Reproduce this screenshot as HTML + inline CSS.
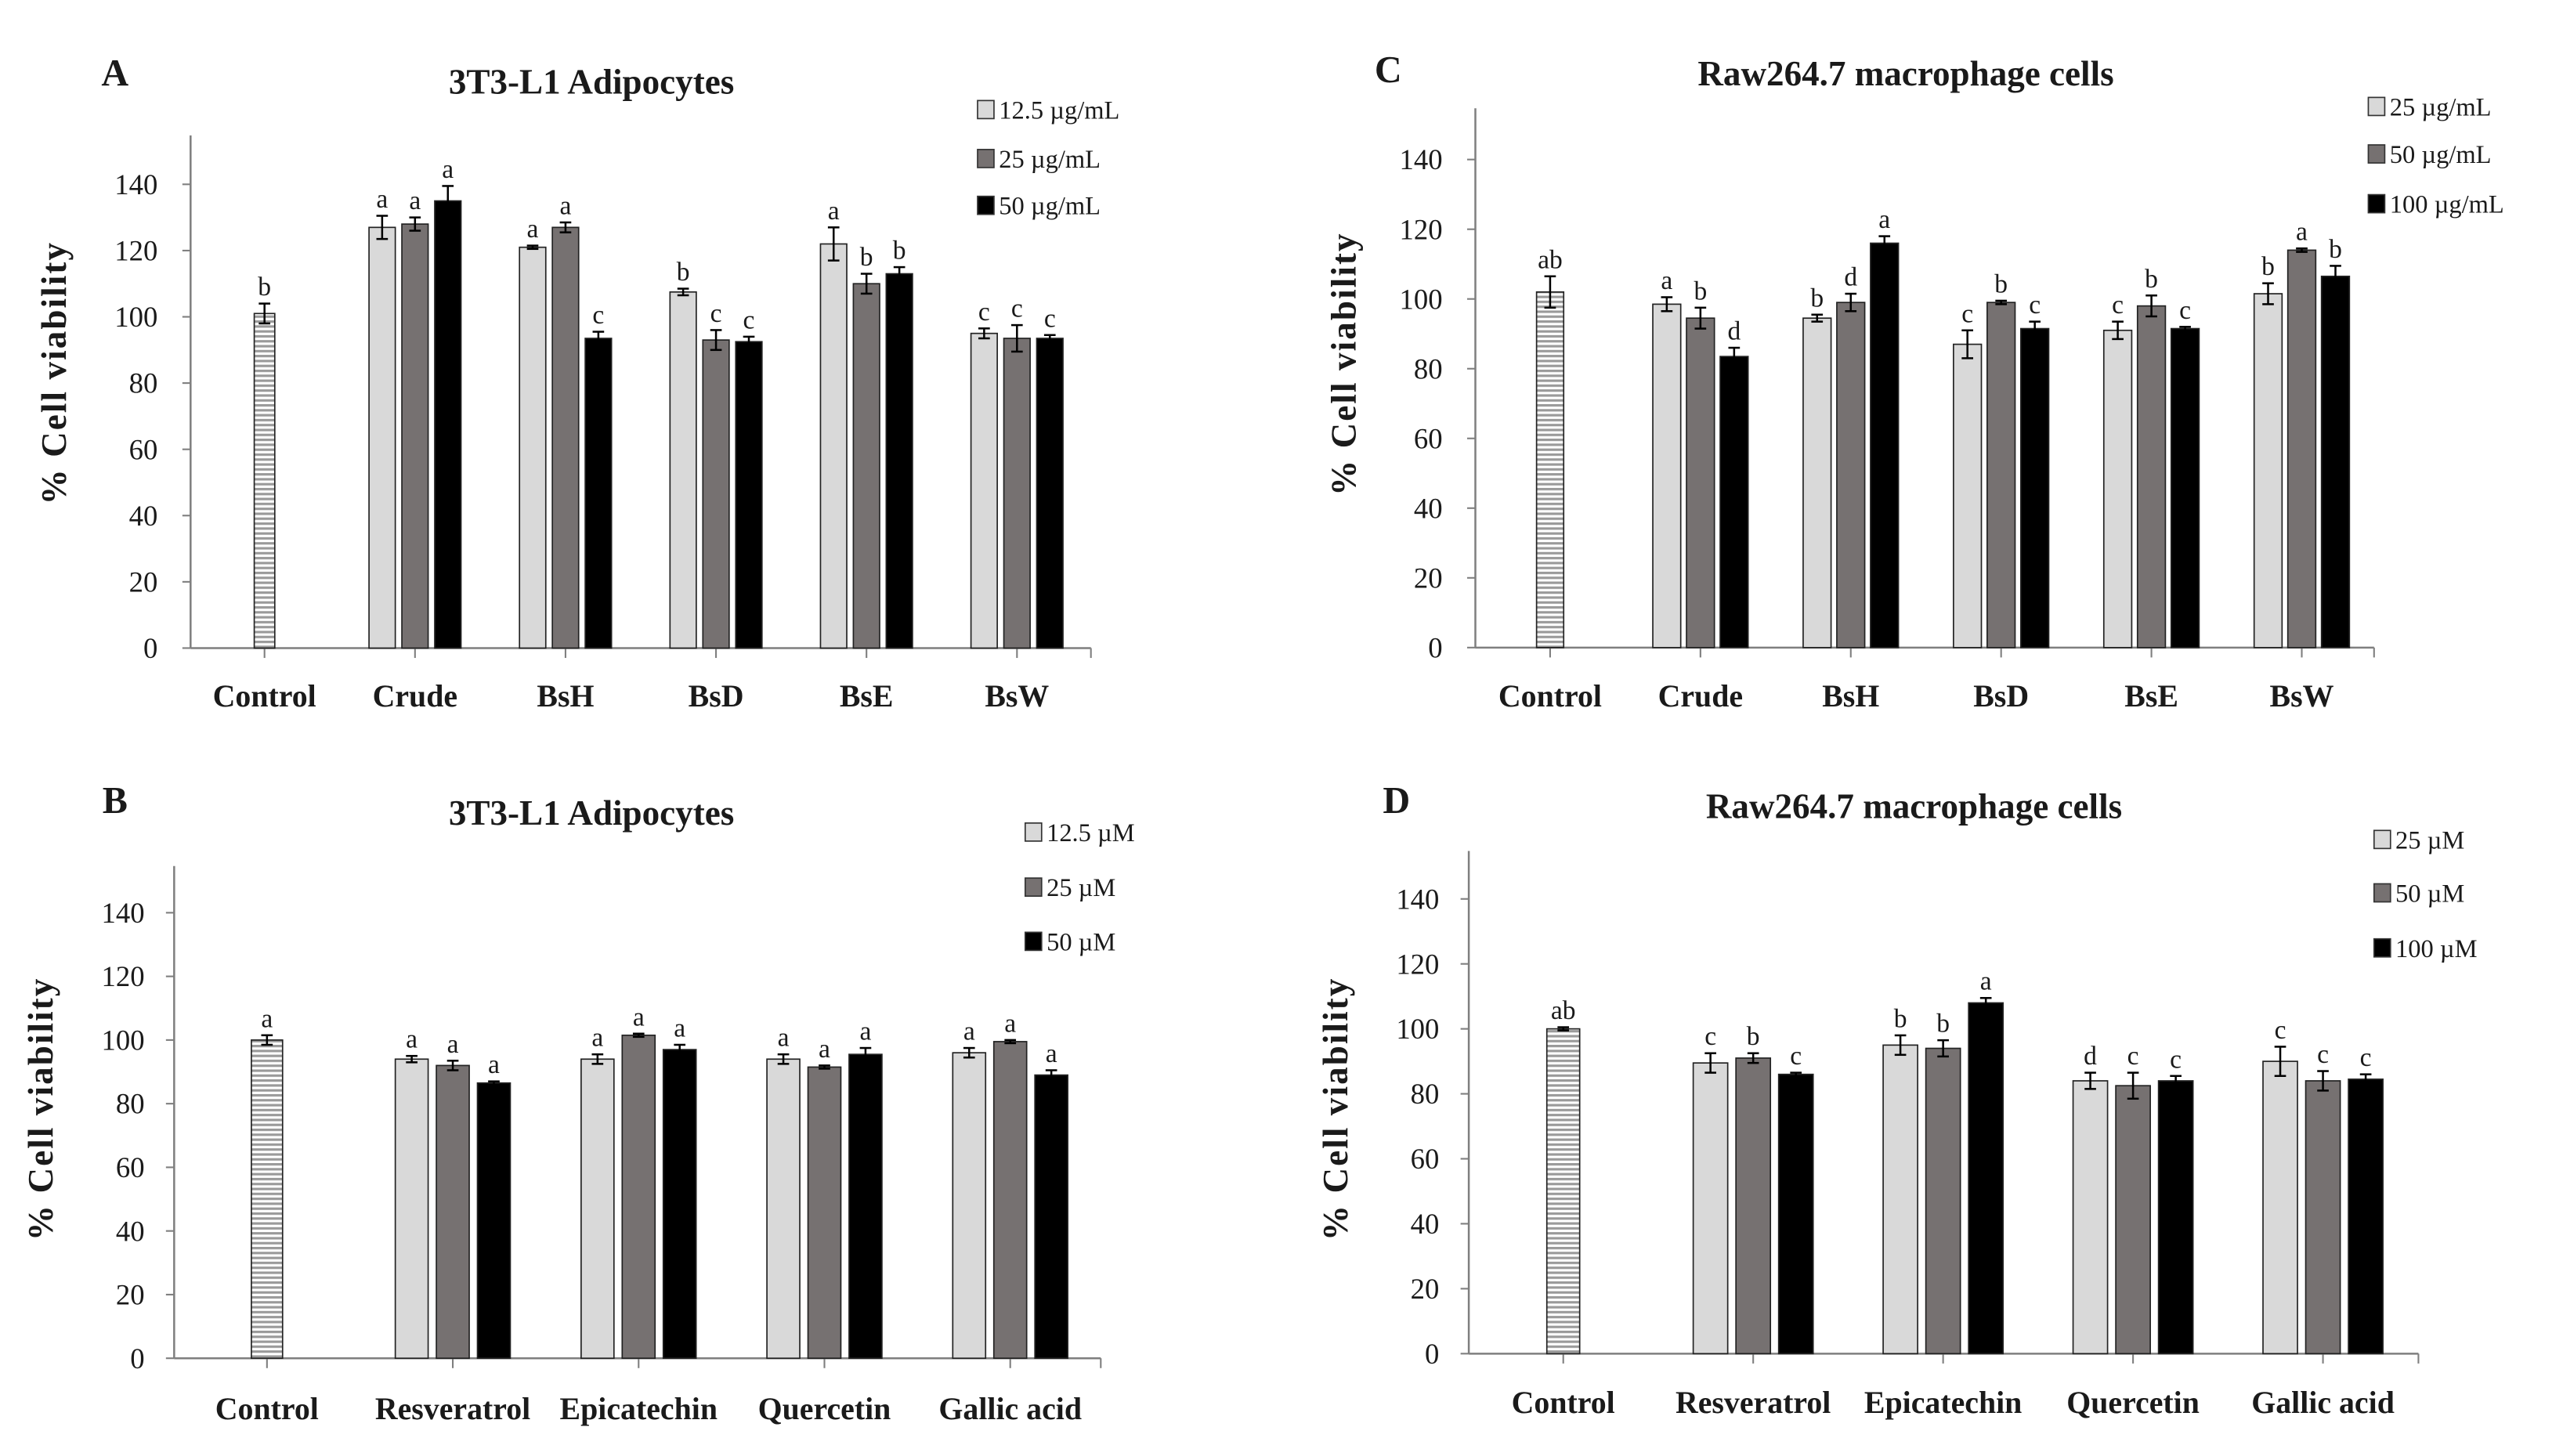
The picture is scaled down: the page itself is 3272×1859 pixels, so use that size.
<!DOCTYPE html>
<html><head><meta charset="utf-8"><style>
html,body{margin:0;padding:0;background:#fff;}
svg{display:block;}
text{font-family:"Liberation Serif",serif;fill:#1a1a1a;}
</style></head>
<body>
<svg id="fig" width="3272" height="1859" viewBox="0 0 1560 886.3" preserveAspectRatio="none" xmlns="http://www.w3.org/2000/svg">
<defs>
<pattern id="stripes" width="4" height="3" patternUnits="userSpaceOnUse">
<rect width="4" height="3" fill="#fff"/><rect width="4" height="1.5" fill="#9a9a9a"/>
</pattern>
</defs>
</svg>
<script>
// Panel A data
const catsA = ["Control","Crude","BsH","BsD","BsE","BsW"];
const ctrlA = [101]; const ctrlErrA = [3]; const ctrlLetA = ["b"];
const s1A = [127,121,107.5,122,95];   const e1A = [3.5,0.5,1,5,1.5];  const l1A = ["a","a","b","a","c"];
const s2A = [128,127,93,110,93.5];    const e2A = [2,1.5,3,3,4];      const l2A = ["a","a","c","b","c"];
const s3A = [135,93.5,92.5,113,93.5]; const e3A = [4.5,2,1.5,2,1];    const l3A = ["a","c","c","b","c"];
const legA = ["12.5 µg/mL","25 µg/mL","50 µg/mL"];
// Panel B data
const catsB = ["Control","Resveratrol","Epicatechin","Quercetin","Gallic acid"];
const ctrlB = [100]; const ctrlErrB = [1.5]; const ctrlLetB = ["a"];
const s1B = [94,94,94,96];      const e1B = [1,1.5,1.5,1.5];  const l1B = ["a","a","a","a"];
const s2B = [92,101.5,91.5,99.5]; const e2B = [1.5,0.5,0.5,0.5]; const l2B = ["a","a","a","a"];
const s3B = [86.5,97,95.5,89];  const e3B = [0.5,1.5,2,1.5];  const l3B = ["a","a","a","a"];
const legB = ["12.5 µM","25 µM","50 µM"];
// Panel C data
const catsC = ["Control","Crude","BsH","BsD","BsE","BsW"];
const ctrlC = [102]; const ctrlErrC = [4.5]; const ctrlLetC = ["ab"];
const s1C = [98.5,94.5,87,91,101.5]; const e1C = [2,1,4,2.5,3];   const l1C = ["a","b","c","c","b"];
const s2C = [94.5,99,99,98,114];     const e2C = [3,2.5,0.5,3,0.5]; const l2C = ["b","d","b","b","a"];
const s3C = [83.5,116,91.5,91.5,106.5]; const e3C = [2.5,2,2,0.5,3]; const l3C = ["d","a","c","c","b"];
const legC = ["25 µg/mL","50 µg/mL","100 µg/mL"];
// Panel D data
const catsD = ["Control","Resveratrol","Epicatechin","Quercetin","Gallic acid"];
const ctrlD = [100]; const ctrlErrD = [0.5]; const ctrlLetD = ["ab"];
const s1D = [89.5,95,84,90];   const e1D = [3,3,2.5,4.5];   const l1D = ["c","b","d","c"];
const s2D = [91,94,82.5,84];   const e2D = [1.5,2.5,4,3];   const l2D = ["b","b","c","c"];
const s3D = [86,108,84,84.5];  const e3D = [0.5,1.5,1.5,1.5]; const l3D = ["c","a","c","c"];
const legD = ["25 µM","50 µM","100 µM"];
const yTicks = [0,20,40,60,80,100,120,140];

const NS="http://www.w3.org/2000/svg";
const svg=document.getElementById("fig");
function mk(tag,attrs,parent){const e=document.createElementNS(NS,tag);for(const k in attrs)e.setAttribute(k,attrs[k]);(parent||svg).appendChild(e);return e;}
const fills=["#d9d9d9","#767171","#000000"];

function panel(cfg,cats,ctrl,ctrlErr,ctrlLet,series,errs,lets,leg){
  const g=mk("g",{});
  
  
  const y=v=>cfg.y0-(v/140)*(cfg.y0-cfg.y140);
  const x=i=>cfg.c0+i*cfg.step;
  const ya=mk("line",{x1:cfg.ax,y1:cfg.top,x2:cfg.ax,y2:cfg.y0,stroke:"#7f7f7f","stroke-width":1.2},g);
  
  
  const xa=mk("line",{x1:cfg.ax,y1:cfg.y0,x2:cfg.xe,y2:cfg.y0,stroke:"#7f7f7f","stroke-width":1.2},g);
  
  
  yTicks.forEach(t=>{
    mk("line",{x1:cfg.ax-5,y1:y(t),x2:cfg.ax,y2:y(t),stroke:"#7f7f7f","stroke-width":1},g);
    const tl=mk("text",{x:cfg.tr,y:y(t)+6,"text-anchor":"end","font-size":17.5},g);
    tl.textContent=t;
    
    
  });
  [cfg.xe].concat(cats.map((c,i)=>x(i))).forEach(px=>mk("line",{x1:px,y1:cfg.y0,x2:px,y2:cfg.y0+6,stroke:"#7f7f7f","stroke-width":1},g));
  cats.forEach((c,i)=>{
    const t=mk("text",{x:x(i),y:cfg.cy,"text-anchor":"middle","font-size":19,"font-weight":"bold"},g);
    t.textContent=c;
    
    
  });
  function bar(cx,w,v,e,l,fill){
    const r=mk("rect",{x:cx-w/2,y:y(v),width:w,height:cfg.y0-y(v),fill:fill,stroke:"#222","stroke-width":0.8},g);
    
    
    mk("line",{x1:cx,y1:y(v+e),x2:cx,y2:y(v-e),stroke:"#000","stroke-width":1.2},g);
    mk("line",{x1:cx-3.5,y1:y(v+e),x2:cx+3.5,y2:y(v+e),stroke:"#000","stroke-width":1.2},g);
    mk("line",{x1:cx-3.5,y1:y(v-e),x2:cx+3.5,y2:y(v-e),stroke:"#000","stroke-width":1.2},g);
    const lt=mk("text",{x:cx,y:y(v+e)-5,"text-anchor":"middle","font-size":16},g);
    lt.textContent=l;
    
    
  }
  bar(x(0),cfg.cw,ctrl[0],ctrlErr[0],ctrlLet[0],"url(#stripes)");
  for(let i=1;i<cats.length;i++){
    for(let s=0;s<3;s++){
      bar(x(i)+(s-1)*cfg.bs,cfg.bw,series[s][i-1],errs[s][i-1],lets[s][i-1],fills[s]);
    }
  }
  const tt=mk("text",{x:cfg.tx,y:cfg.ty,"text-anchor":"middle","font-size":21.5,"font-weight":"bold"},g);
  tt.textContent=cfg.title;
  
  
  const pl=mk("text",{x:cfg.lx,y:cfg.ly,"text-anchor":"middle","font-size":23,"font-weight":"bold"},g);
  pl.textContent=cfg.id;
  
  
  const yt=mk("text",{x:0,y:0,"text-anchor":"middle","font-size":21.5,"font-weight":"bold","letter-spacing":"1",transform:`translate(${cfg.ytx},${cfg.yty}) rotate(-90)`},g);
  yt.textContent="% Cell viability";
  
  
  leg.forEach((s,i)=>{
    const ly=cfg.legY[i];
    const sq=mk("rect",{x:cfg.legX-5,y:ly-5.5,width:10,height:11,fill:fills[i],stroke:"#333","stroke-width":0.8},g);
    
    
    const lt=mk("text",{x:cfg.legX+8,y:ly+5.5,"font-size":15.5},g);
    lt.textContent=s;
    
    
  });
}

panel({id:"A",title:"3T3-L1 Adipocytes",ax:116,top:82.4,y0:394.5,y140:112.2,xe:664,c0:161,step:91.6,bw:16,bs:20,cw:12.5,tr:96,cy:430,tx:360,ty:57,lx:70,ly:52,ytx:40,yty:227,legX:600,legY:[66.7,96.5,125]},
  catsA,ctrlA,ctrlErrA,ctrlLetA,[s1A,s2A,s3A],[e1A,e2A,e3A],[l1A,l2A,l3A],legA);
panel({id:"B",title:"3T3-L1 Adipocytes",ax:106,top:527.2,y0:826.8,y140:555.6,xe:670,c0:162.5,step:113.1,bw:20,bs:25,cw:19,tr:88,cy:864,tx:360,ty:502,lx:70,ly:495,ytx:32,yty:675,legX:629,legY:[506.5,540,573]},
  catsB,ctrlB,ctrlErrB,ctrlLetB,[s1B,s2B,s3B],[e1B,e2B,e3B],[l1B,l2B,l3B],legB);
panel({id:"C",title:"Raw264.7 macrophage cells",ax:898,top:65.9,y0:394.2,y140:97.1,xe:1445,c0:943.5,step:91.5,bw:17,bs:20.5,cw:16.5,tr:878,cy:430,tx:1160,ty:52,lx:845,ly:50,ytx:825,yty:221.5,legX:1446.5,legY:[64.8,93.7,124]},
  catsC,ctrlC,ctrlErrC,ctrlLetC,[s1C,s2C,s3C],[e1C,e2C,e3C],[l1C,l2C,l3C],legC);
panel({id:"D",title:"Raw264.7 macrophage cells",ax:894,top:518,y0:824,y140:547.2,xe:1472,c0:951.5,step:115.6,bw:21,bs:26,cw:20,tr:876,cy:860,tx:1165,ty:498,lx:850,ly:495,ytx:820,yty:675,legX:1450,legY:[511,543.5,577]},
  catsD,ctrlD,ctrlErrD,ctrlLetD,[s1D,s2D,s3D],[e1D,e2D,e3D],[l1D,l2D,l3D],legD);
</script>
</body></html>
